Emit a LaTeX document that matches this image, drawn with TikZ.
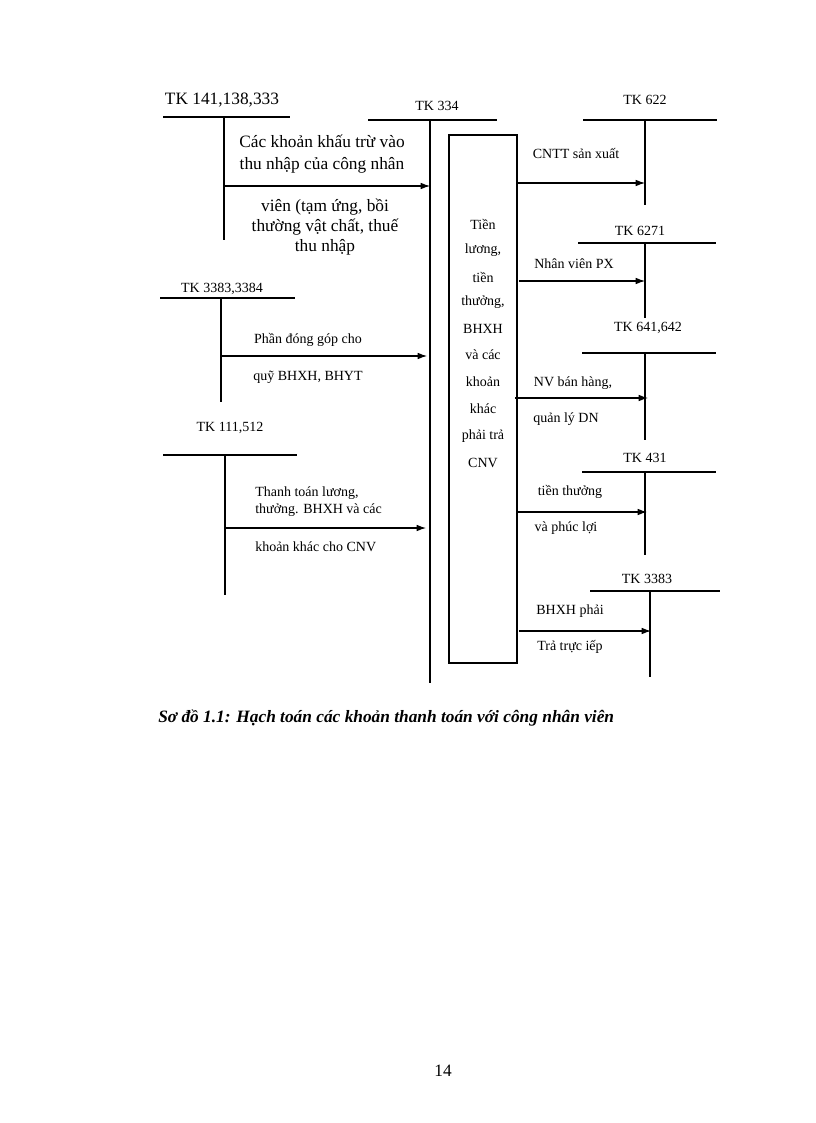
\documentclass[tikz,border=0pt]{standalone}
\usepackage{fontspec}
\setmainfont{Liberation Serif}
\usetikzlibrary{arrows.meta}
\begin{document}
\begin{tikzpicture}[x=0.75pt,y=-0.75pt,
  ln/.style={line width=1pt},
  ar/.style={line width=0.8pt,-{Latex[length=7pt,width=5pt]}},
  sm/.style={font=\fontsize{10.5}{12}\selectfont,inner sep=0pt},
  bg/.style={font=\fontsize{13}{15}\selectfont,inner sep=0pt}]
\useasboundingbox (0,0) rectangle (816,1123);
% left accounts
\node[bg] (t1) at (222,100) {TK 141,138,333};
\draw[ln] (163,117) -- (290,117); \draw[ln] (224,117) -- (224,240);
\node[bg,align=center] (l1) at (322,154) {Các khoản khấu trừ vào\\[1pt]thu nhập của công nhân};
\node[bg,align=center] (l1b) at (325,227) {viên (tạm ứng, bồi\\thường vật chất, thuế\\thu nhập};
\coordinate (a1) at (224,186); \coordinate (b1) at (430,186);
\draw[ar] (a1) -- (b1);
\node[sm] (t2) at (222,289) {TK 3383,3384};
\draw[ln] (160,298) -- (295,298); \draw[ln] (221,298) -- (221,402);
\node[sm] (l2) at (308,340) {Phần đóng góp cho};
\node[sm] (l2b) at (308,377) {quỹ BHXH, BHYT};
\coordinate (a2) at (221,356); \coordinate (b2) at (427,356);
\draw[ar] (a2) -- (b2);
\node[sm] (t3) at (230,428) {TK 111,512};
\draw[ln] (163,455) -- (297,455); \draw[ln] (225,455) -- (225,595);
\node[sm,anchor=west] (l3) at (255,493) {Thanh toán lương,};
\node[sm,anchor=west] (l3b) at (255,510) {thưởng. BHXH và các};
\node[sm,anchor=west] (l3c) at (255,547) {khoản khác cho CNV};
\coordinate (a3) at (225,528); \coordinate (b3) at (426,528);
\draw[ar] (a3) -- (b3);
% TK 334
\node[sm] (t334) at (437,106) {TK 334};
\draw[ln] (368,120) -- (497,120); \draw[ln] (430,120) -- (430,683);
\draw[ln] (449,135) rectangle (517,663);
\foreach \t/\y in {Tiền/224,{lương,}/250,tiền/277,{thưởng,}/302,BHXH/329,và các/355,khoản/382,khác/409,phải trả/436,CNV/463}
  \node[sm] at (483,\y) {\t};
% right accounts
\node[sm] (r1) at (645,100) {TK 622};
\draw[ln] (583,120) -- (717,120); \draw[ln] (645,120) -- (645,205);
\node[sm] at (576,154) {CNTT sản xuất};
\coordinate (c1) at (517,183); \coordinate (d1) at (645,183);
\draw[ar] (c1) -- (d1);
\node[sm] (r2) at (640,231) {TK 6271};
\draw[ln] (578,243) -- (716,243); \draw[ln] (645,243) -- (645,318);
\node[sm] at (574,264) {Nhân viên PX};
\coordinate (c2) at (519,281); \coordinate (d2) at (645,281);
\draw[ar] (c2) -- (d2);
\node[sm] (r3) at (648,328) {TK 641,642};
\draw[ln] (582,353) -- (716,353); \draw[ln] (645,353) -- (645,440);
\node[sm] at (573,383) {NV bán hàng,};
\node[sm] at (566,419) {quản lý DN};
\coordinate (c3) at (515,398); \coordinate (d3) at (648,398);
\draw[ar] (c3) -- (d3);
\node[sm] (r4) at (645,458) {TK 431};
\draw[ln] (582,472) -- (716,472); \draw[ln] (645,472) -- (645,555);
\node[sm] at (570,492) {tiền thưởng};
\node[sm] at (566,528) {và phúc lợi};
\coordinate (c4) at (517,512); \coordinate (d4) at (647,512);
\draw[ar] (c4) -- (d4);
\node[sm] (r5) at (647,579) {TK 3383};
\draw[ln] (590,591) -- (720,591); \draw[ln] (650,591) -- (650,677);
\node[sm] at (570,611) {BHXH phải};
\node[sm] at (570,647) {Trả trực iếp};
\coordinate (c5) at (519,631); \coordinate (d5) at (651,631);
\draw[ar] (c5) -- (d5);
% caption
\node[bg,anchor=west,font=\fontsize{13}{15}\selectfont\bfseries\itshape] (cap) at (158,718) {Sơ đồ 1.1: Hạch toán các khoản thanh toán với công nhân viên};
\node[bg] (pg) at (443,1071) {14};
\end{tikzpicture}
\end{document}
